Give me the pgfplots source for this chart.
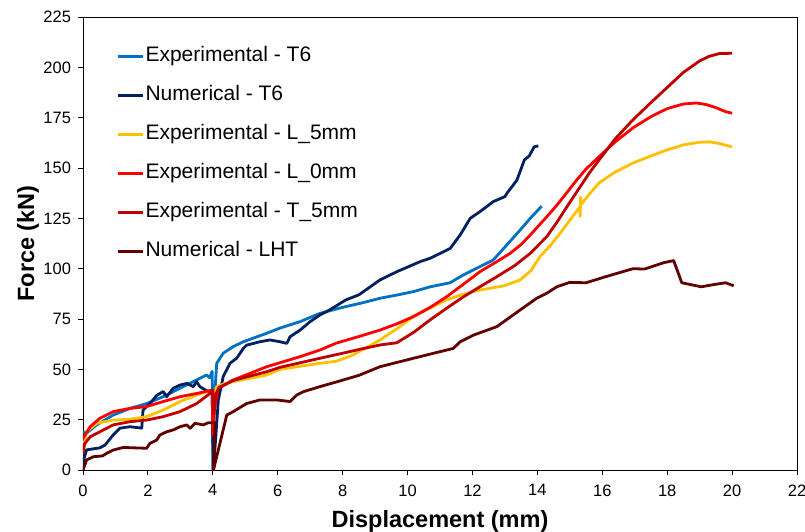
\documentclass[border=0pt]{standalone}
\usepackage{fontspec}
\setmainfont{Liberation Sans}
\usepackage{pgfplots}
\pgfplotsset{compat=1.18}
\definecolor{cExpT6}{HTML}{0070C0}
\definecolor{cNumT6}{HTML}{002060}
\definecolor{cL5}{HTML}{FFC000}
\definecolor{cL0}{HTML}{FF0000}
\definecolor{cT5}{HTML}{C00000}
\definecolor{cLHT}{HTML}{600000}
\begin{document}
\begin{tikzpicture}
\begin{axis}[
  scale only axis, width=714pt, height=453pt,
  xmin=0, xmax=22, ymin=0, ymax=225,
  xtick={0,2,...,22}, ytick={0,25,...,225},
  tick align=outside, xtick pos=bottom, ytick pos=left,
  major tick length=5pt,
  axis line style={line width=0.9pt, black},
  every tick/.style={black, line width=0.9pt},
  tick label style={font=\fontsize{16.5}{18}\selectfont},
  /pgf/number format/assume math mode=true,
  yticklabel style={xshift=-3.5pt},
  xticklabel style={yshift=-6pt},
  xlabel={Displacement (mm)}, ylabel={Force (kN)},
  label style={font=\fontsize{23.5}{26}\selectfont\bfseries},
  xlabel style={at={(axis description cs:0.5,0)}, anchor=base, yshift=-57pt},
  ylabel style={at={(axis description cs:-0.077,0.5)}, anchor=center},
  legend style={draw=none, fill=none, inner sep=0pt, at={(0,1)}, anchor=north west,
    xshift=33pt, yshift=-28pt, row sep=17pt,
    font=\fontsize{21}{23}\selectfont,
    nodes={inner sep=1.5pt, text height=15pt, text depth=4pt}},
  legend cell align=left,
  legend image code/.code={\draw[#1, line width=2.8pt] (0pt,0pt) -- (25pt,0pt);},
  every axis plot/.append style={line width=2.8pt, line join=round, mark=none},
]
\addplot[cExpT6] coordinates {
(0,19) (0.1,18.2) (0.42,22.4) (0.93,27.3) (1.45,30.6) (1.96,33) (2.47,36.4) (2.99,40.6) (3.5,44.7) (3.81,47.2) (3.9,45.8) (3.98,49) (4.0,0) (4.05,35) (4.12,53) (4.32,58) (4.63,61.3) (4.94,63.7) (5.66,67.9) (6.07,70.5) (6.69,73.7) (7.3,77.8) (8,80.8) (8.6,83) (9.15,85.3) (9.7,87) (10.18,88.6) (10.7,91) (11.31,93) (11.72,96.9) (12.23,101) (12.64,104.3) (13.06,111.8) (13.47,119.2) (13.78,125) (14.13,131)
};
\addlegendentry{Experimental - T6}
\addplot[cNumT6] coordinates {
(0,0) (0.02,5) (0.11,10) (0.52,11) (0.68,12.4) (0.93,17.4) (1.14,20.8) (1.45,21.5) (1.81,20.8) (1.85,29.8) (2.06,33) (2.27,37) (2.47,39) (2.58,36.4) (2.78,40.6) (2.99,42.2) (3.2,43) (3.4,41.4) (3.5,43.9) (3.6,41.4) (3.86,38.9) (3.98,38) (4.02,0) (4.17,34.8) (4.32,46.4) (4.53,53) (4.74,55.6) (4.94,60.4) (5.04,62) (5.45,63.7) (5.76,64.6) (6.07,63.7) (6.28,62.9) (6.38,66.2) (6.69,69.5) (7.0,73.7) (7.3,77) (7.6,79.5) (8.1,84.5) (8.5,87) (9.15,94.4) (9.67,98.5) (10.39,103.5) (10.7,105.2) (11.31,110) (11.62,116.7) (11.93,125) (12.23,128.3) (12.64,133.3) (13.0,135.8) (13.07,137.6) (13.37,144) (13.6,154) (13.75,156) (13.9,160.5) (14.03,161)
};
\addlegendentry{Numerical - T6}
\addplot[cL5] coordinates {
(0,10) (0.11,19) (0.42,23.2) (0.93,24.8) (1.45,25.2) (1.96,26.5) (2.47,29.8) (2.99,34) (3.5,37.2) (3.9,39.4) (4.0,38) (4.03,33) (4.1,41) (4.22,42.2) (4.63,43.9) (5.66,47.2) (6.07,50) (7.3,53) (7.8,54) (8.3,57) (8.7,60.5) (9.15,64.6) (9.7,70.5) (10.18,76.2) (10.7,80.5) (11.2,84.5) (11.7,87.2) (12.23,89.4) (12.95,91.4) (13.47,94.4) (13.8,99) (14.08,106) (14.4,111.5) (14.7,117.6) (15.0,124) (15.3,130.5) (15.32,126) (15.33,135.5) (15.35,132) (15.6,137) (15.9,142.6) (16.4,148) (16.95,152.5) (17.5,156) (18,159) (18.5,161.5) (19,162.8) (19.3,163) (19.6,162.2) (20,160.5)
};
\addlegendentry{Experimental - L\_5mm}
\addplot[cL0] coordinates {
(0,15.7) (0.22,21.5) (0.52,25.7) (0.93,29) (1.45,30.6) (1.96,31.5) (2.47,34) (2.99,36.4) (3.5,38) (3.98,39.7) (4.0,17.4) (4.05,30) (4.17,40.6) (4.6,44.5) (5.66,51.3) (6.69,56.3) (7.3,59.6) (7.8,63) (8.5,66.3) (9.15,69.5) (9.7,72.8) (10.18,76.2) (10.7,80.8) (11.2,86) (11.7,92) (12.23,98.5) (12.7,103) (13.16,107.6) (13.5,112) (13.78,116.7) (14.29,125.8) (14.6,131.5) (14.9,137.6) (15.21,144) (15.5,149.5) (15.9,155.6) (16.4,163) (16.95,170) (17.5,175.5) (18,179.5) (18.5,181.8) (18.9,182.3) (19.2,181.5) (19.5,180) (19.8,178) (20,177.2)
};
\addlegendentry{Experimental - L\_0mm}
\addplot[cT5] coordinates {
(0,8) (0.05,13) (0.22,16.5) (0.52,19) (0.93,22.4) (1.45,24) (1.96,24.8) (2.47,26.5) (2.99,29) (3.5,33) (3.91,38) (4.0,39.5) (4.03,28) (4.1,38) (4.2,41) (4.63,44.5) (5.66,48.8) (6.07,51) (7.3,55.5) (8,58) (8.6,60.2) (9.15,62.1) (9.67,63.2) (10.2,68.5) (10.69,74.5) (11.2,80.3) (11.72,86) (12.25,91.2) (12.75,96) (13.3,101.5) (13.78,107.6) (14.29,115.9) (14.6,123) (14.9,130.5) (15.32,140.7) (15.6,147.5) (15.9,154) (16.4,164.5) (16.95,174) (17.5,182.5) (18,190) (18.5,197.5) (19,203.2) (19.3,205.5) (19.6,206.8) (20,207)
};
\addlegendentry{Experimental - T\_5mm}
\addplot[cLHT] coordinates {
(0,0) (0.11,5) (0.32,6.6) (0.6,7) (0.73,8.3) (0.93,9.9) (1.24,11.2) (1.96,10.8) (2.06,13.2) (2.27,14.9) (2.37,17.4) (2.58,19) (2.78,19.9) (2.99,21.5) (3.2,22.4) (3.3,20.7) (3.45,23.2) (3.71,22.4) (3.86,23.5) (4.07,23.5) (4.02,0) (4.43,27.3) (4.63,29) (5.04,33) (5.45,34.8) (5.97,34.8) (6.38,34) (6.59,37.3) (6.79,38.9) (7.3,41.4) (7.8,43.7) (8.5,47) (9.15,51.3) (10.18,55.5) (11.41,60.4) (11.62,63.7) (12.03,67) (12.75,71.2) (13.47,79.5) (13.98,85.3) (14.29,87.8) (14.6,91) (15.0,93.2) (15.5,93) (16.1,96) (16.95,100) (17.3,99.8) (17.9,103) (18.2,104) (18.45,93) (19.05,91) (19.4,92) (19.8,93) (20.05,91.5)
};
\addlegendentry{Numerical - LHT}
\end{axis}
\pgfresetboundingbox
\useasboundingbox (current axis.south west) ++(-83pt,-61pt) rectangle ++(805pt,531pt);
\end{tikzpicture}
\end{document}
